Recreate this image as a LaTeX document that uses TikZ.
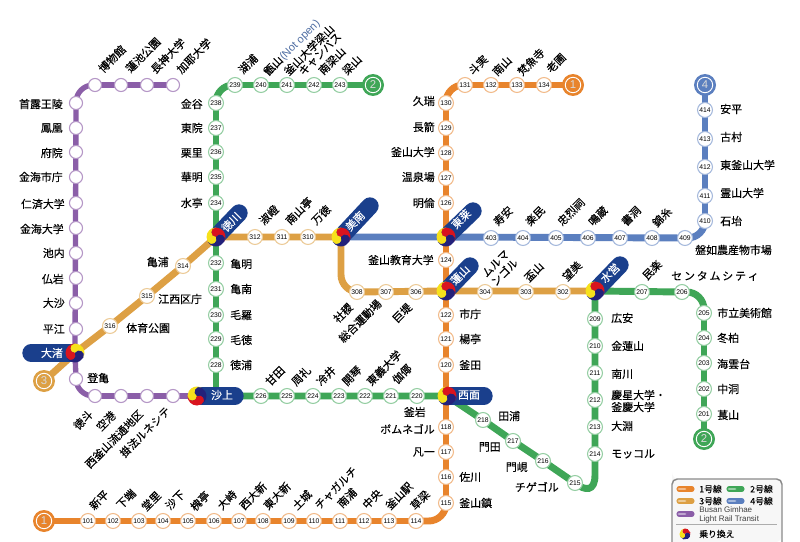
\documentclass[tikz,border=0pt]{standalone}
\usepackage{fontspec}
\setmainfont{Noto Sans CJK JP}[RawFeature={embolden=0.15}]
\newfontfamily\numf{Liberation Sans}
\usetikzlibrary{backgrounds}
\definecolor{lo}{HTML}{E8842C}
\definecolor{lg}{HTML}{3FA657}
\definecolor{la}{HTML}{DDA044}
\definecolor{lb}{HTML}{5B7FBF}
\definecolor{lp}{HTML}{8B5EA8}
\definecolor{pn}{HTML}{1A3F8C}
\definecolor{tr}{HTML}{D9141E}
\definecolor{ty}{HTML}{F7E11B}
\definecolor{tn}{HTML}{23217A}
\definecolor{legb}{HTML}{8A8A8A}
\tikzset{
 st/.style={circle,fill=white,inner sep=0pt,minimum size=11.2pt,line width=.8pt,font=\numf\fontsize{5.1}{5.1}\selectfont,text=black},
 stp/.style={circle,fill=white,inner sep=0pt,minimum size=9.8pt,line width=.8pt,draw=lp!65},
 jn/.style={circle,inner sep=0pt,minimum size=13pt},
 endn/.style={circle,inner sep=0pt,minimum size=16.5pt,text=white!85!black,font=\numf\fontsize{8.5}{8.5}\selectfont},
 lab/.style={inner sep=0pt,font=\fontsize{8.2}{9}\selectfont,text=black},
 labe/.style={lab,anchor=east},
 labw/.style={lab,anchor=west},
 labr/.style={lab,rotate=45},
 pilltext/.style={lab,text=white},
 ln/.style={line width=5.2pt},
 lnp/.style={line width=4pt,color=lp},
 pill/.style={line width=13pt,line cap=round,color=pn},
 corner/.style={rounded corners=13pt}
}
\newcommand{\comma}[3]{% start angle, radius, colour
 \fill[#3] (#1:#2) arc[start angle=#1,end angle={#1+120},radius=#2]
  .. controls ({#1+153.4}:{1.198*#2}) and ({#1+210}:{0.66*#2}) .. (0,0)
  .. controls ({#1+90}:{0.66*#2}) and ({#1+33.4}:{1.198*#2}) .. (#1:#2) -- cycle;}
\newcommand{\taeg}[6]{% node, start, radius, c1,c2,c3
 \begin{scope}[shift={(#1)},yscale=-1]
 \comma{#2}{#3}{#4}\comma{#2+120}{#3}{#5}\comma{#2+240}{#3}{#6}
 \end{scope}}
\begin{document}
\begin{tikzpicture}[x=0.75pt,y=-0.75pt]
\useasboundingbox (0,0) rectangle (800,542);
% stations
\foreach \n/\x/\y in {101/88/521,102/113/521,103/139/521,104/163/521,105/188/521,106/214/521,107/239/521,108/263/521,109/289/521,110/314/521,111/340/521,112/364/521,113/389/521,114/416/521,115/446/503,116/446/477,117/446/452,118/446/427,120/446/365,121/446/339,122/446/315,124/446/260,126/446/203,127/446/178,128/446/153,129/446/128,130/446/103,131/465/85,132/491/85,133/517/85,134/544/85}
 \node[st,draw=lo!55] (s\n) at (\x,\y) {\n};
\foreach \n/\x/\y in {201/704/414,202/704/389,203/704/363,204/704/338,205/704/313,206/682/292,207/642/292,209/595/319,210/595/346,211/595/373,212/595/400,213/595/427,214/595/454,215/575/483,216/543/461,217/513/441,218/483/420,220/417/396,221/391/396,222/365/396,223/339/396,224/313/396,225/287/396,226/261/396,228/216/365,229/216/339,230/216/315,231/216/289,232/216/263,234/216/203,235/216/177,236/216/152,237/216/128,238/216/103,239/235/85,240/261/85,241/287/85,242/314/85,243/340/85}
 \node[st,draw=lg!55] (s\n) at (\x,\y) {\n};
\foreach \n/\x/\y in {302/563/292,303/526/292,304/485/292,306/416/292,307/386/292,308/357/292,310/308/237,311/282/237,312/255/237,314/183/266,315/147/296,316/110/326}
 \node[st,draw=la!55] (s\n) at (\x,\y) {\n};
\foreach \n/\x/\y in {403/491/238,404/523/238,405/556/238,406/588/238,407/620/238,408/652/238,409/685/238,410/705/221,411/705/196,412/705/167,413/705/139,414/705/110}
 \node[st,draw=lb!55] (s\n) at (\x,\y) {\n};
\foreach \n/\x/\y in {a/95/85,b/121/85,c/147/85,d/173/85,e/76/103,f/76/128,g/76/152,h/76/177,i/76/203,j/76/228,k/76/253,l/76/278,m/76/303,n/76/329,o/76/379,p/95/396,q/121/396,r/147/396,s/173/396}
 \node[stp] (p\n) at (\x,\y) {};
% junctions
\node[jn] (jDae) at (75,353) {};
\node[jn] (jDeo) at (216,237) {};
\node[jn] (jMin) at (341,237) {};
\node[jn] (jDon) at (446,237) {};
\node[jn] (jYeo) at (446,291) {};
\node[jn] (jSuy) at (595,291) {};
\node[jn] (jSeo) at (447,396) {};
\node[jn] (jSas) at (197,396) {};
\coordinate (pDae) at (31,353);
\coordinate (pDeo) at (239,213);
\coordinate (pMin) at (370,206);
\coordinate (pDon) at (473,211);
\coordinate (pYeo) at (470,266);
\coordinate (pSuy) at (620,265);
\coordinate (pSeo) at (484,396);
\coordinate (pSas) at (235,396);
% line ends
\node[endn,fill=lo] (e1a) at (44,521) {1};
\node[endn,fill=lo] (e1b) at (573,85) {1};
\node[endn,fill=lg] (e2a) at (373,85) {2};
\node[endn,fill=lg] (e2b) at (704,439) {2};
\node[endn,fill=la] (e3) at (44,381) {3};
\node[endn,fill=lb] (e4) at (705,85) {4};
\foreach \e in {e1a,e1b,e2a,e2b,e3,e4}
 \draw[white,line width=.7pt] (\e.center) circle (7.7);
% connectors
\begin{scope}[on background layer]
\fill[white] (0,0) rectangle (800,542);
\draw[lnp] (pa.center) -- (pd.center);
\draw[lnp,corner] (pe.center) |- (pa.center);
\draw[lnp] (pe.center) -- (jDae.center) -- (po.center);
\draw[lnp,corner] (po.center) |- (pp.center);
\draw[lnp] (pp.center) -- (jSas.center);
\draw[ln,color=la] (e3.center) -- (jDae.center) -- (s316.center) -- (s315.center) -- (s314.center) -- (jDeo.center) -- (jMin.center);
\draw[ln,color=la,corner] (jMin.center) |- (s308.center);
\draw[ln,color=la] (s308.center) -- (jYeo.center) -- (jSuy.center);
\draw[ln,color=lb] (jMin.center) -- (jDon.center) -- (s409.center);
\draw[ln,color=lb,corner] (s409.center) -| (s410.center);
\draw[ln,color=lb] (s410.center) -- (e4.center);
\draw[ln,color=lo] (e1a.center) -- (s114.center);
\draw[ln,color=lo,corner] (s114.center) -| (s115.center);
\draw[ln,color=lo] (s115.center) -- (s130.center);
\draw[ln,color=lo,corner] (s130.center) |- (s131.center);
\draw[ln,color=lo] (s131.center) -- (e1b.center);
\draw[ln,color=lg] (e2a.center) -- (s239.center);
\draw[ln,color=lg,corner] (s239.center) -| (s238.center);
\draw[ln,color=lg] (s238.center) -- (s228.center |- jSas.center);
\draw[ln,color=lg] (jSas.center) -- (jSeo.center) -- (s218.center) -- (s217.center) -- (s216.center) -- (s215.center) .. controls (585,491) and (595,492) .. (595,475) -- (s214.center) -- (jSuy.center) -- (s206.center);
\draw[ln,color=lg,corner] (s206.center) -| (s205.center);
\draw[ln,color=lg] (s205.center) -- (e2b.center);
\foreach \a/\b in {Dae/Dae,Deo/Deo,Min/Min,Don/Don,Yeo/Yeo,Suy/Suy,Seo/Seo,Sas/Sas}
 \draw[pill] (j\a.center) -- (p\b);
\end{scope}
% interchange symbols
\taeg{jDae}{-30}{9.5}{ty}{tr}{tn}
\taeg{jSas}{60}{9.5}{ty}{tr}{tn}
\foreach \j in {jDeo,jMin,jDon,jYeo,jSuy,jSeo}{\taeg{\j}{-30}{9.5}{tr}{ty}{tn}}
% pill labels
\node[pilltext] (nDae) at (52,353) {大渚};
\node[pilltext] (nSas) at (222,395) {沙上};
\node[pilltext] (nSeo) at (469,395) {西面};
\node[pilltext,rotate=45] (nDeo) at (231,222) {徳川};
\node[pilltext,rotate=45] (nMin) at (355,221) {美南};
\node[pilltext,rotate=45] (nDon) at (461,219) {東莱};
\node[pilltext,rotate=45] (nYeo) at (460,275) {蓮山};
\node[pilltext,rotate=45] (nSuy) at (610,273) {水営};
% labels anchored at their right end
\foreach \x/\y/\t [count=\i] in {63/104/首露王陵,63/128/鳳凰,63/153/府院,63/177/金海市庁,65/204/仁済大学,64/229/金海大学,65/253/池内,64/279/仏岩,65/303/大沙,65/329/平江,203/104/金谷,203/128/東院,203/153/栗里,203/177/華明,203/203/水亭,169/262/亀浦,435/101/久瑞,435/127/長箭,435/152/釜山大学,435/177/温泉場,435/203/明倫,434/260/釜山教育大学,435/429/ボムネゴル,435/452/凡一,426/412/釜岩,501/447/門田,528/467/門峴,559/487/チゲゴル}
 \node[labe] (le\i) at (\x,\y) {\t};
% labels anchored at their left end
\foreach \x/\y/\t [count=\i] in {230/264/亀明,230/289/亀南,230/315/毛羅,230/340/毛徳,230/365/徳浦,158/299/江西区庁,126/328/体育公園,87/378/登亀,459/314/市庁,459/339/楊亭,459/365/釜田,498/416/田浦,459/477/佐川,459/503/釜山鎮,717/313/市立美術館,717/338/冬柏,717/364/海雲台,717/389/中洞,717/415/萇山,611/318/広安,611/346/金蓮山,611/374/南川,611/426/大淵,611/454/モッコル,695/250/盤如農産物市場,720/221/石坮,720/193/霊山大学,720/165/東釜山大学,720/137/古村,720/109/安平}
 \node[labw] (lw\i) at (\x,\y) {\t};
% rotated labels
\foreach \x/\y/\t [count=\i] in {112/59/博物館,143/55/蓮池公園,168/56/長神大学,194/56/加耶大学,83/420/徳斗,106/421/空港,114/439/西釜山流通地区,145/432/掛法ルネシテ,248/64/湖浦,309/50/釜山大学梁山,320/54/キャンパス,332/61/南梁山,352/65/梁山,478/65/斗実,502/66/南山,531/62/梵魚寺,556/63/老圃,275/376/甘田,301/376/周礼,326/376/冷井,352/376/開琴,384/368/東義大学,402/374/伽倻,99/500/新平,126/499/下端,151/501/堂里,175/500/沙下,200/501/槐亭,227/500/大峙,253/496/西大新,277/496/東大新,302/500/土城,336/488/チャガルチ,347/498/南浦,372/499/中央,399/496/釜山駅,420/500/草梁,269/215/淑嶝,299/211/南山亭,321/215/万徳,343/313/社稷,360/321/総合運動場,402/313/巨堤,534/272/盃山,572/271/望美,652/270/民楽,503/216/寿安,535/216/楽民,571/212/忠烈祠,598/216/鳴蔵,631/216/書洞,662/217/錦糸}
 \node[labr] (lr\i) at (\x,\y) {\t};
\node[labr] (lNotOpen) at (292,48) {甑山{\numf\color{lb!85!black}(Not open)}};
\node[labr,align=center,font=\fontsize{8.2}{9.5}\selectfont] (lMul) at (500,268) {ムルマ\\ンゴル};
\node[lab] (lCen) at (715,276) {セ\,ン\,タ\,ム\,シ\,テ\,ィ};
\node[labw,align=left,font=\fontsize{8.2}{9}\selectfont] (lKyo) at (611,401) {慶星大学・\\釜慶大学};
% legend
\fill[white!97!black] (672,542) -- (672,479) [rounded corners=5pt] -- (672,479) -- (782,479) -- (782,542) [sharp corners] -- cycle;
\draw[legb,line width=1.1pt,rounded corners=4pt] (672,543) |- (782,479) -- (782,543);
\foreach \x/\y/\c in {677/489/lo,727/489/lg,677/501/la,727/501/lb,677/514/lp}{
 \draw[\c,line width=3.8pt,line cap=round] (\x+2,\y) -- (\x+15,\y);
 \draw[\c!55!white,line width=2.2pt,line cap=round] (\x+2,\y) -- (\x+8,\y);
}
\node[labw,font=\fontsize{6.6}{7}\selectfont] (lg1) at (699,489) {1号線};
\node[labw,font=\fontsize{6.6}{7}\selectfont] (lg2) at (750,489) {2号線};
\node[labw,font=\fontsize{6.6}{7}\selectfont] (lg3) at (699,501) {3号線};
\node[labw,font=\fontsize{6.6}{7}\selectfont] (lg4) at (750,501) {4号線};
\node[labw,align=left,text=black!75,font=\numf\fontsize{6}{6.2}\selectfont] (lg5) at (699,515) {Busan Gimhae\\Light Rail Transit};
\draw[legb!70,line width=.5pt] (676,524) -- (777,524);
\node[jn,minimum size=8pt] (lgj) at (685,534) {};
\taeg{lgj}{-30}{5.5}{tr}{ty}{tn}
\node[labw,font=\fontsize{6.6}{7}\selectfont] (lg6) at (699,534) {乗り換え};
\end{tikzpicture}
\end{document}
